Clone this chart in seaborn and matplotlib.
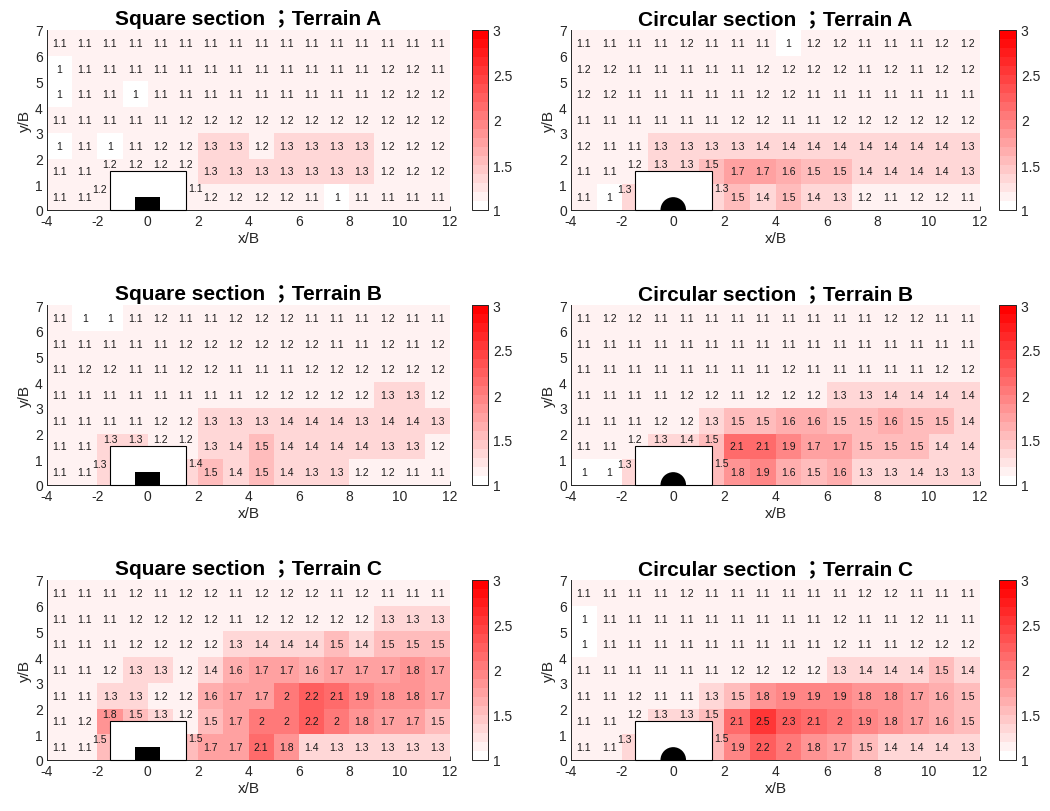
import numpy as np
import pandas as pd
import matplotlib
matplotlib.use("Agg")
import matplotlib.pyplot as plt
import seaborn as sns
from matplotlib.colors import ListedColormap
from matplotlib.patches import Rectangle, Wedge
from matplotlib.ticker import FormatStrFormatter

sns.set_theme(style="white")
plt.rcParams["font.family"] = ["Liberation Sans", "Noto Sans CJK TC", "DejaVu Sans"]

# cell centres (x/B along the flow, y/B height), rows listed from the top row down
x_centers = [-3.5, -2.5, -1.5, -0.5, 0.5, 1.5, 2.5, 3.5, 4.5, 5.5, 6.5, 7.5, 8.5, 9.5, 10.5, 11.5]
y_centers = [6.5, 5.5, 4.5, 3.5, 2.5, 1.5, 0.5]
x_ticks = [-4, -2, 0, 2, 4, 6, 8, 10, 12]
y_ticks = [0, 1, 2, 3, 4, 5, 6, 7]
cbar_ticks = [1, 1.5, 2, 2.5, 3]
nan = np.nan

square_A = [
    [1.1, 1.1, 1.1, 1.1, 1.1, 1.1, 1.1, 1.1, 1.1, 1.1, 1.1, 1.1, 1.1, 1.1, 1.1, 1.1],
    [1.0, 1.1, 1.1, 1.1, 1.1, 1.1, 1.1, 1.1, 1.1, 1.1, 1.1, 1.1, 1.1, 1.2, 1.2, 1.1],
    [1.0, 1.1, 1.1, 1.0, 1.1, 1.1, 1.1, 1.1, 1.1, 1.1, 1.1, 1.1, 1.1, 1.2, 1.2, 1.2],
    [1.1, 1.1, 1.1, 1.1, 1.1, 1.2, 1.2, 1.2, 1.2, 1.2, 1.2, 1.2, 1.2, 1.2, 1.2, 1.2],
    [1.0, 1.1, 1.0, 1.1, 1.2, 1.2, 1.3, 1.3, 1.2, 1.3, 1.3, 1.3, 1.3, 1.2, 1.2, 1.2],
    [1.1, 1.1, 1.2, 1.2, 1.2, 1.2, 1.3, 1.3, 1.3, 1.3, 1.3, 1.3, 1.3, 1.2, 1.2, 1.2],
    [1.1, 1.1, 1.2, nan, nan, 1.1, 1.2, 1.2, 1.2, 1.2, 1.1, 1.0, 1.1, 1.1, 1.1, 1.1],
]
circular_A = [
    [1.1, 1.1, 1.1, 1.1, 1.2, 1.1, 1.1, 1.1, 1.0, 1.2, 1.2, 1.1, 1.1, 1.1, 1.2, 1.2],
    [1.2, 1.2, 1.1, 1.1, 1.1, 1.1, 1.1, 1.2, 1.2, 1.2, 1.2, 1.1, 1.2, 1.1, 1.2, 1.2],
    [1.2, 1.2, 1.1, 1.1, 1.1, 1.1, 1.1, 1.2, 1.2, 1.1, 1.1, 1.1, 1.1, 1.1, 1.1, 1.1],
    [1.1, 1.1, 1.1, 1.1, 1.1, 1.1, 1.2, 1.2, 1.1, 1.1, 1.2, 1.2, 1.2, 1.2, 1.2, 1.2],
    [1.2, 1.1, 1.1, 1.3, 1.3, 1.3, 1.3, 1.4, 1.4, 1.4, 1.4, 1.4, 1.4, 1.4, 1.4, 1.3],
    [1.1, 1.1, 1.2, 1.3, 1.3, 1.5, 1.7, 1.7, 1.6, 1.5, 1.5, 1.4, 1.4, 1.4, 1.4, 1.3],
    [1.1, 1.0, 1.3, nan, nan, 1.3, 1.5, 1.4, 1.5, 1.4, 1.3, 1.2, 1.1, 1.2, 1.2, 1.1],
]
square_B = [
    [1.1, 1.0, 1.0, 1.1, 1.2, 1.1, 1.1, 1.2, 1.2, 1.2, 1.1, 1.1, 1.1, 1.2, 1.1, 1.1],
    [1.1, 1.1, 1.1, 1.1, 1.1, 1.2, 1.2, 1.2, 1.2, 1.2, 1.2, 1.1, 1.1, 1.2, 1.1, 1.2],
    [1.1, 1.2, 1.2, 1.1, 1.1, 1.2, 1.2, 1.1, 1.1, 1.1, 1.2, 1.2, 1.2, 1.2, 1.2, 1.2],
    [1.1, 1.1, 1.1, 1.1, 1.1, 1.1, 1.1, 1.1, 1.2, 1.2, 1.2, 1.2, 1.2, 1.3, 1.3, 1.2],
    [1.1, 1.1, 1.1, 1.1, 1.2, 1.2, 1.3, 1.3, 1.3, 1.4, 1.4, 1.4, 1.3, 1.4, 1.4, 1.3],
    [1.1, 1.1, 1.3, 1.3, 1.2, 1.2, 1.3, 1.4, 1.5, 1.4, 1.4, 1.4, 1.4, 1.3, 1.3, 1.2],
    [1.1, 1.1, 1.3, nan, nan, 1.4, 1.5, 1.4, 1.5, 1.4, 1.3, 1.3, 1.2, 1.2, 1.1, 1.1],
]
circular_B = [
    [1.1, 1.2, 1.2, 1.1, 1.1, 1.1, 1.1, 1.1, 1.1, 1.1, 1.1, 1.1, 1.2, 1.2, 1.1, 1.1],
    [1.1, 1.1, 1.1, 1.1, 1.1, 1.1, 1.1, 1.1, 1.1, 1.1, 1.1, 1.1, 1.1, 1.1, 1.1, 1.1],
    [1.1, 1.1, 1.1, 1.1, 1.1, 1.1, 1.1, 1.1, 1.2, 1.1, 1.1, 1.1, 1.1, 1.1, 1.2, 1.2],
    [1.1, 1.1, 1.1, 1.1, 1.2, 1.2, 1.1, 1.2, 1.2, 1.2, 1.3, 1.3, 1.4, 1.4, 1.4, 1.4],
    [1.1, 1.1, 1.1, 1.2, 1.2, 1.3, 1.5, 1.5, 1.6, 1.6, 1.5, 1.5, 1.6, 1.5, 1.5, 1.4],
    [1.1, 1.1, 1.2, 1.3, 1.4, 1.5, 2.1, 2.1, 1.9, 1.7, 1.7, 1.5, 1.5, 1.5, 1.4, 1.4],
    [1.0, 1.0, 1.3, nan, nan, 1.5, 1.8, 1.9, 1.6, 1.5, 1.6, 1.3, 1.3, 1.4, 1.3, 1.3],
]
square_C = [
    [1.1, 1.1, 1.1, 1.2, 1.1, 1.2, 1.2, 1.1, 1.2, 1.2, 1.2, 1.1, 1.2, 1.1, 1.1, 1.1],
    [1.1, 1.1, 1.1, 1.2, 1.2, 1.2, 1.2, 1.1, 1.2, 1.2, 1.2, 1.2, 1.2, 1.3, 1.3, 1.3],
    [1.1, 1.1, 1.1, 1.2, 1.2, 1.2, 1.2, 1.3, 1.4, 1.4, 1.4, 1.5, 1.4, 1.5, 1.5, 1.5],
    [1.1, 1.1, 1.2, 1.3, 1.3, 1.2, 1.4, 1.6, 1.7, 1.7, 1.6, 1.7, 1.7, 1.7, 1.8, 1.7],
    [1.1, 1.1, 1.3, 1.3, 1.2, 1.2, 1.6, 1.7, 1.7, 2.0, 2.2, 2.1, 1.9, 1.8, 1.8, 1.7],
    [1.1, 1.2, 1.8, 1.5, 1.3, 1.2, 1.5, 1.7, 2.0, 2.0, 2.2, 2.0, 1.8, 1.7, 1.7, 1.5],
    [1.1, 1.1, 1.5, nan, nan, 1.5, 1.7, 1.7, 2.1, 1.8, 1.4, 1.3, 1.3, 1.3, 1.3, 1.3],
]
circular_C = [
    [1.1, 1.1, 1.1, 1.1, 1.2, 1.1, 1.1, 1.1, 1.1, 1.1, 1.1, 1.2, 1.2, 1.1, 1.1, 1.1],
    [1.0, 1.1, 1.1, 1.1, 1.1, 1.1, 1.1, 1.1, 1.1, 1.1, 1.2, 1.1, 1.1, 1.2, 1.1, 1.1],
    [1.0, 1.1, 1.1, 1.1, 1.1, 1.1, 1.1, 1.1, 1.1, 1.1, 1.2, 1.1, 1.1, 1.2, 1.2, 1.2],
    [1.1, 1.1, 1.1, 1.1, 1.1, 1.1, 1.2, 1.2, 1.2, 1.2, 1.3, 1.4, 1.4, 1.4, 1.5, 1.4],
    [1.1, 1.1, 1.2, 1.1, 1.1, 1.3, 1.5, 1.8, 1.9, 1.9, 1.9, 1.8, 1.8, 1.7, 1.6, 1.5],
    [1.1, 1.1, 1.2, 1.3, 1.3, 1.5, 2.1, 2.5, 2.3, 2.1, 2.0, 1.9, 1.8, 1.7, 1.6, 1.5],
    [1.1, 1.1, 1.3, nan, nan, 1.5, 1.9, 2.2, 2.0, 1.8, 1.7, 1.5, 1.4, 1.4, 1.4, 1.3],
]

titles = [
    "Square section ；Terrain A", "Circular section ；Terrain A",
    "Square section ；Terrain B", "Circular section ；Terrain B",
    "Square section ；Terrain C", "Circular section ；Terrain C",
]
panel_data = [square_A, circular_A, square_B, circular_B, square_C, circular_C]
shapes = ["square", "circle", "square", "circle", "square", "circle"]

# white -> red stepped colour scale
n_levels = 20
frac = np.linspace(0, 1, n_levels)
cmap = ListedColormap(np.column_stack([np.ones(n_levels), 1 - frac, 1 - frac]))

X0 = 4.0  # heatmap column index offset: position = x/B + X0
INK = "#262626"

fig = plt.figure(figsize=(10.5, 8.12), dpi=100)
W, H = 1050.0, 812.0
col_px = [(47, 403, 472, 16), (571, 409, 999, 17)]
row_px = [(31, 211), (306, 486), (581, 761)]

for k, (title, data, shape) in enumerate(zip(titles, panel_data, shapes)):
    r, c = divmod(k, 2)
    x_l, w_ax, x_cb, w_cb = col_px[c]
    y_t, y_b = row_px[r]
    ax = fig.add_axes([x_l / W, 1 - y_b / H, w_ax / W, (y_b - y_t) / H])
    cax = fig.add_axes([x_cb / W, 1 - y_b / H, w_cb / W, (y_b - y_t) / H])

    df = pd.DataFrame(data, index=y_centers, columns=x_centers)
    # bottom row first so that row index matches y/B
    sns.heatmap(df.iloc[::-1], ax=ax, cmap=cmap, vmin=1, vmax=3,
                cbar=True, cbar_ax=cax, cbar_kws={"ticks": cbar_ticks},
                xticklabels=False, yticklabels=False)
    ax.set_xlim(0, 16)
    ax.set_ylim(0, 7)

    # bluff body: white footprint with the section drawn inside
    ax.add_patch(Rectangle((-1.5 + X0, 0), 3, 1.5, facecolor="white",
                           edgecolor="black", lw=0.8, zorder=3, clip_on=False))
    if shape == "square":
        ax.add_patch(Rectangle((-0.5 + X0, 0), 1, 0.5, facecolor="black",
                               edgecolor="none", zorder=4))
    else:
        ax.add_patch(Wedge((X0, 0), 0.5, 0, 180, facecolor="black",
                           edgecolor="none", zorder=4))

    # value labels
    for yc, row in zip(y_centers, data):
        for xc, v in zip(x_centers, row):
            if np.isnan(v):
                continue
            s = f"{v:g}"
            tx, ty, ha = xc, yc, "center"
            if yc == 0.5 and xc == -1.5:
                tx, ty, ha = -1.64, 0.82, "right"
            elif yc == 0.5 and xc == 1.5:
                tx, ty, ha = 1.6, 0.84, "left"
            elif yc == 1.5 and -1.5 <= xc <= 1.5:
                ty = 1.78
            ax.text(tx + X0, ty, s, ha=ha, va="center", fontsize=7.5,
                    color="#1a1a1a", zorder=5)

    ax.set_xticks([t + X0 for t in x_ticks])
    ax.set_xticklabels([str(t) for t in x_ticks])
    ax.set_yticks(y_ticks)
    ax.set_yticklabels([str(t) for t in y_ticks])
    ax.set_axisbelow(True)
    for side in ["left", "bottom"]:
        ax.spines[side].set_visible(True)
        ax.spines[side].set_color(INK)
        ax.spines[side].set_linewidth(0.7)
    for side in ["top", "right"]:
        ax.spines[side].set_visible(False)
    ax.tick_params(direction="in", length=3, width=0.6, color=INK,
                   labelsize=10, labelcolor=INK, pad=3, left=True, bottom=True)
    ax.set_xlabel("x/B", fontsize=11, color=INK, labelpad=2)
    ax.set_ylabel("y/B", fontsize=11, color=INK, labelpad=2)
    ax.set_title(title, fontsize=15, fontweight="bold", color="black", pad=4)

    cb = ax.collections[0].colorbar
    cb.outline.set_linewidth(0.7)
    cb.outline.set_edgecolor(INK)
    cb.ax.yaxis.set_major_formatter(FormatStrFormatter("%g"))
    cb.ax.tick_params(direction="in", length=3, width=0.6, color=INK,
                      labelsize=10, labelcolor=INK, right=True)

fig.savefig("out.png", dpi=100)
